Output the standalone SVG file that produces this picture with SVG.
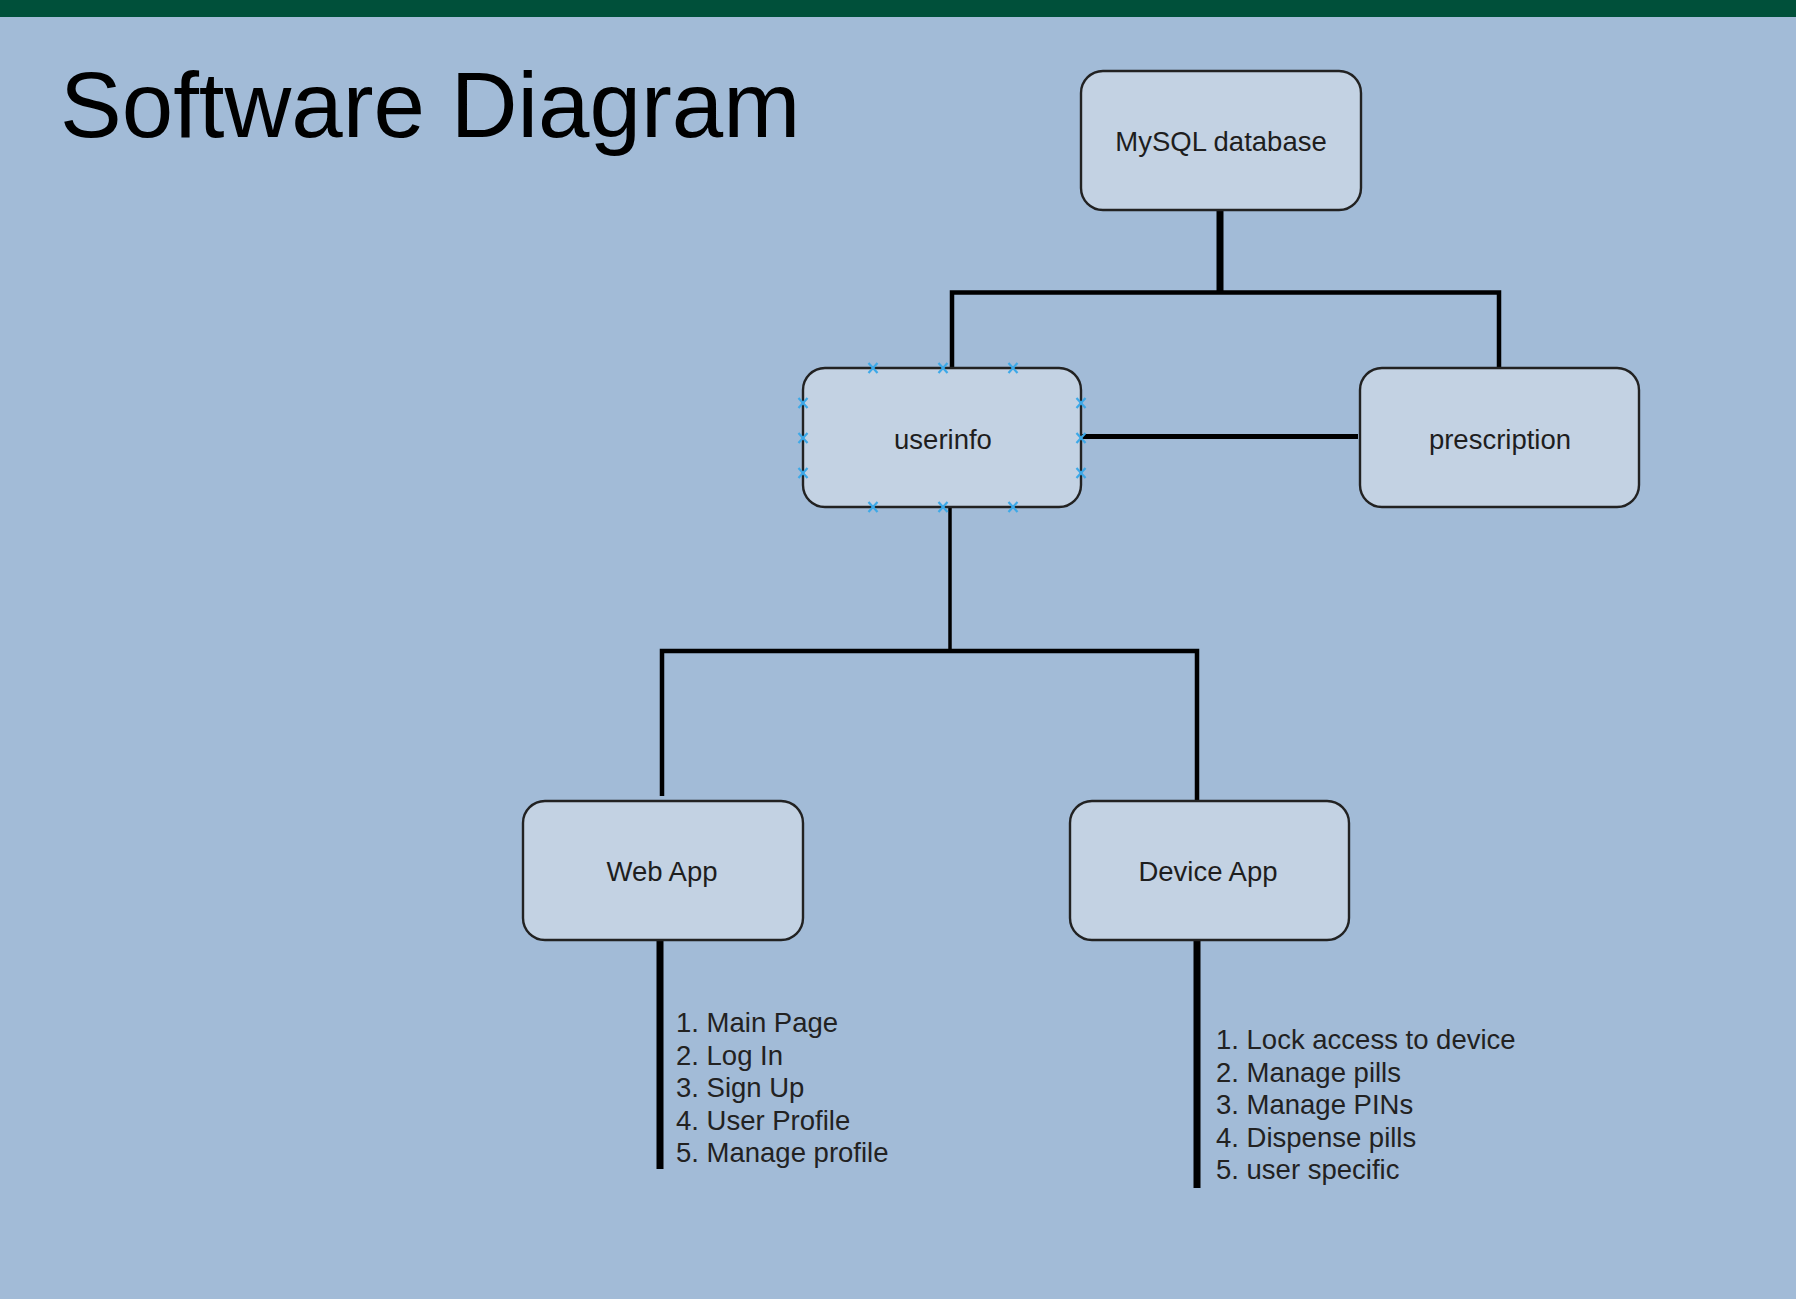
<svg xmlns="http://www.w3.org/2000/svg" width="1796" height="1299" viewBox="0 0 1796 1299">
<defs>
<style>
.node rect{fill:#C3D2E3;stroke:#222;stroke-width:2.4}
.lbl{font-family:"Liberation Sans",Arial,sans-serif;font-size:27.5px;fill:#1e1e1e;text-anchor:middle}
.list{font-family:"Liberation Sans",Arial,sans-serif;font-size:27.5px;fill:#222}
.conn{stroke:#000;fill:none;stroke-linecap:butt}
.pt{stroke:#3DA9E8;stroke-width:2.2;fill:none}
</style>
<path id="xm" d="M-4.5,-5 L4.5,5 M-4.5,5 L4.5,-5"/>
</defs>
<rect x="0" y="0" width="1796" height="1299" fill="#A2BBD7"/>
<rect x="0" y="0" width="1796" height="17" fill="#00503A"/>
<text x="60" y="137" font-family="'Liberation Sans',Arial,sans-serif" font-size="92.5" fill="#000">Software Diagram</text>

<g id="connectors" class="conn">
<line x1="1220" y1="210" x2="1220" y2="294" stroke-width="7"/>
<polyline points="952,368 952,292.5 1499,292.5 1499,368" stroke-width="4.5"/>
<line x1="1081" y1="436.5" x2="1358" y2="436.5" stroke-width="5"/>
<line x1="950" y1="507" x2="950" y2="652" stroke-width="3.5"/>
<polyline points="662,796 662,651 1197,651 1197,801" stroke-width="4.5"/>
<line x1="660" y1="940" x2="660" y2="1169" stroke-width="7"/>
<line x1="1197" y1="940" x2="1197" y2="1188" stroke-width="7"/>
</g>

<g id="node-mysql" class="node">
<rect x="1081" y="71" width="280" height="139" rx="22"/>
<text class="lbl" x="1221" y="151">MySQL database</text>
</g>
<g id="node-userinfo" class="node">
<rect x="803" y="368" width="278" height="139" rx="22"/>
<text class="lbl" x="943" y="449">userinfo</text>
<g class="pt">
<use href="#xm" x="873" y="368"/><use href="#xm" x="943" y="368"/><use href="#xm" x="1013" y="368"/>
<use href="#xm" x="873" y="507"/><use href="#xm" x="943" y="507"/><use href="#xm" x="1013" y="507"/>
<use href="#xm" x="803" y="403"/><use href="#xm" x="803" y="438"/><use href="#xm" x="803" y="473"/>
<use href="#xm" x="1081" y="403"/><use href="#xm" x="1081" y="438"/><use href="#xm" x="1081" y="473"/>
</g>
</g>
<g id="node-prescription" class="node">
<rect x="1360" y="368" width="279" height="139" rx="22"/>
<text class="lbl" x="1500" y="449">prescription</text>
</g>
<g id="node-webapp" class="node">
<rect x="523" y="801" width="280" height="139" rx="22"/>
<text class="lbl" x="662" y="881">Web App</text>
</g>
<g id="node-deviceapp" class="node">
<rect x="1070" y="801" width="279" height="139" rx="22"/>
<text class="lbl" x="1208" y="881">Device App</text>
</g>

<g id="list-webapp" class="list">
<text x="676" y="1032">1. Main Page</text>
<text x="676" y="1065">2. Log In</text>
<text x="676" y="1097">3. Sign Up</text>
<text x="676" y="1130">4. User Profile</text>
<text x="676" y="1162">5. Manage profile</text>
</g>
<g id="list-deviceapp" class="list">
<text x="1216" y="1049">1. Lock access to device</text>
<text x="1216" y="1082">2. Manage pills</text>
<text x="1216" y="1114">3. Manage PINs</text>
<text x="1216" y="1147">4. Dispense pills</text>
<text x="1216" y="1179">5. user specific</text>
</g>
</svg>
